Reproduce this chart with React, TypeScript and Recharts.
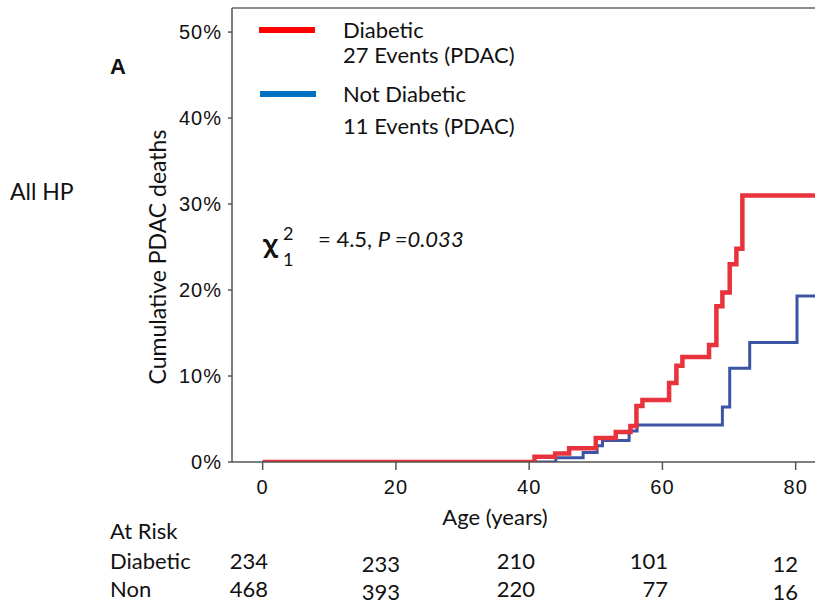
import { LineChart, Line, XAxis, YAxis, ReferenceLine } from 'recharts';

// cumulative PDAC deaths (%) by age
const diabeticAges = [0, 40.8, 43.9, 46, 50, 53, 55.2, 56.1, 57, 61, 62.1, 63, 67, 68.1, 69, 70.1, 71.1, 72, 83];
const diabeticPct = [0, 0.6, 1.0, 1.6, 2.8, 3.5, 4.2, 6.5, 7.2, 9.2, 11.2, 12.2, 13.6, 18.1, 19.7, 23.0, 24.8, 31.0, 31.0];
const nonAges = [0, 44, 48.1, 50.2, 51, 55, 56.2, 69, 70.1, 73.1, 80.2, 83];
const nonPct = [0, 0.5, 1.1, 1.9, 2.5, 3.6, 4.3, 6.4, 10.9, 13.9, 19.3, 19.3];

const ageTicks = [0, 20, 40, 60, 80];
const pctTicks = [0, 10, 20, 30, 40, 50];

const riskDiabetic = [234, 233, 210, 101, 12];
const riskNon = [468, 393, 220, 77, 16];

const diabeticData = diabeticAges.map((age, i) => ({ age, pct: diabeticPct[i] }));
const nonData = nonAges.map((age, i) => ({ age, pct: nonPct[i] }));

const riskX = [268, 400, 535, 668, 798];
const riskShift = [0, 3, 0, 0, 3];

const textFont = 'Lato, "Open Sans", sans-serif';
const tickFont = '"Liberation Sans", Arial, sans-serif';

export default function App() {
  return (
    <div style={{ position: 'absolute', left: 0, top: 0, width: 815, height: 605, background: '#fff' }}>
      <LineChart
        width={815}
        height={605}
        margin={{ top: 8, right: 0, left: 172, bottom: 113 }}
        style={{ position: 'absolute', left: 0, top: 0 }}
      >
        <XAxis
          dataKey="age"
          type="number"
          domain={[-4.6, 82.9]}
          ticks={ageTicks}
          allowDataOverflow
          height={30}
          stroke="#555"
          strokeWidth={1.5}
          tickSize={8}
          tickMargin={10}
          tick={{ fill: '#111', fontSize: 20, fontFamily: tickFont, letterSpacing: 1 }}
        />
        <YAxis
          type="number"
          domain={[0, 52.8]}
          ticks={pctTicks}
          allowDataOverflow
          width={60}
          stroke="#555"
          strokeWidth={1.5}
          tickSize={4}
          tickMargin={6}
          tickFormatter={(v) => `${v}%`}
          tick={{ fill: '#111', fontSize: 20, fontFamily: tickFont, letterSpacing: 1 }}
        />
        <ReferenceLine y={52.8} stroke="#666" strokeWidth={1.5} />
        <Line
          data={nonData}
          dataKey="pct"
          type="stepAfter"
          stroke="#3c54a5"
          strokeWidth={3}
          dot={false}
          isAnimationActive={false}
        />
        <Line
          data={diabeticData}
          dataKey="pct"
          type="stepAfter"
          stroke="#e8333c"
          strokeWidth={4.5}
          dot={false}
          isAnimationActive={false}
        />
      </LineChart>

      <svg width={815} height={605} style={{ position: 'absolute', left: 0, top: 0, pointerEvents: 'none' }}>
        <g fontFamily={textFont} fill="#111" fontSize={22}>
          <text x={110} y={74} fontFamily={tickFont} fontWeight="bold" fontSize={22}>A</text>
          <text x={10} y={200} fontSize={23}>All HP</text>
          <text x={157} y={257} transform="rotate(-90 157 257)" textAnchor="middle" dominantBaseline="central" fontSize={23}>
            Cumulative PDAC deaths
          </text>

          <line x1={259} y1={30} x2={315} y2={30} stroke="#ff0000" strokeWidth={6} />
          <text x={343} y={38}>Diabetic</text>
          <text x={343} y={63}>27 Events (PDAC)</text>
          <line x1={260} y1={94} x2={316} y2={94} stroke="#0070c0" strokeWidth={6} />
          <text x={343} y={102}>Not Diabetic</text>
          <text x={343} y={134}>11 Events (PDAC)</text>

          <text x={263} y={252} fontFamily='"Noto Sans", sans-serif' fontWeight="bold" fontSize={24}>χ</text>
          <text x={283} y={240} fontSize={18}>2</text>
          <text x={283} y={266} fontSize={18}>1</text>
          <text x={318} y={247}>
            = 4.5, <tspan fontStyle="italic">P =0.033</tspan>
          </text>

          <text x={495} y={525} textAnchor="middle">Age (years)</text>

          <text x={110} y={539}>At Risk</text>
          <text x={110} y={569}>Diabetic</text>
          <text x={110} y={597}>Non</text>
          {riskDiabetic.map((n, i) => (
            <text key={`d${i}`} x={riskX[i]} y={569 + riskShift[i]} textAnchor="end">{n}</text>
          ))}
          {riskNon.map((n, i) => (
            <text key={`n${i}`} x={riskX[i]} y={597 + riskShift[i]} textAnchor="end">{n}</text>
          ))}
        </g>
      </svg>
    </div>
  );
}
